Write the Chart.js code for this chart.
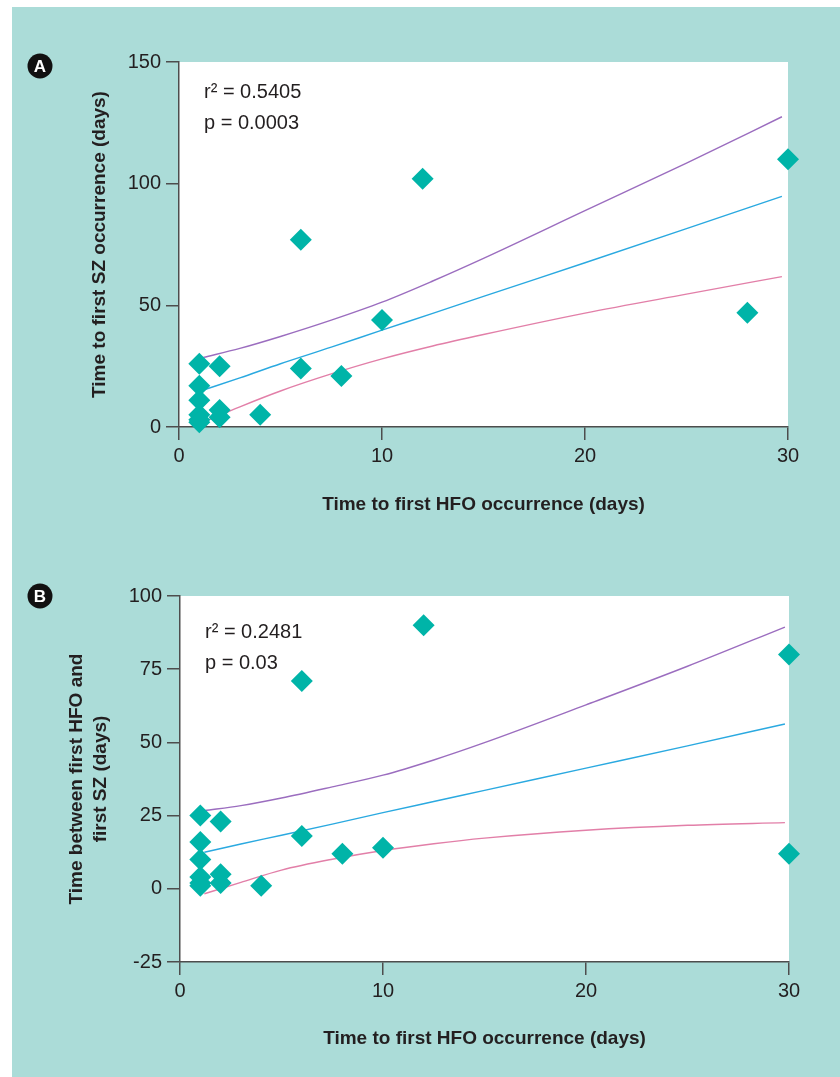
<!DOCTYPE html>
<html>
<head>
<meta charset="utf-8">
<script src="https://cdn.jsdelivr.net/npm/chart.js@4.4.1/dist/chart.umd.min.js"></script>
<style>
  body { margin: 0; background: #fff; width: 840px; height: 1077px; overflow: hidden; position: relative; }
  #bg { position: absolute; left: 12px; top: 7px; right: 0; bottom: 0; background: #abdcd8; }
  .panel { position: absolute; left: 0; width: 840px; }
</style>
</head>
<body>
<div id="bg"></div>
<div class="panel" style="top:0;height:540px"><canvas id="chartA"></canvas></div>
<div class="panel" style="top:540px;height:537px"><canvas id="chartB"></canvas></div>
<script>
// panel A: time to first SZ vs time to first HFO
var hfoA = [1, 1, 1, 1, 1, 1, 2, 2, 2, 4, 6, 6, 8, 10, 12, 28, 30];
var szA  = [26, 17, 11, 5, 3, 2, 25, 7, 4, 5, 77, 24, 21, 44, 102, 47, 110];
var curveXA = [1.2, 3, 5, 7.5, 10, 12.5, 15, 20, 25, 29.7];
var fitA    = [15.2, 20.2, 26, 32.8, 39.8, 46.7, 53.7, 67.5, 81.5, 94.8];
var upperA  = [28.6, 32.3, 37.2, 43.9, 51.3, 60, 69.3, 88.9, 108.4, 127.5];
var lowerA  = [2, 8.3, 14.8, 21.8, 28, 33.3, 38, 46.8, 54.6, 61.8];

// panel B: time between first HFO and first SZ
var hfoB = [1, 1, 1, 1, 1, 1, 2, 2, 2, 4, 6, 6, 8, 10, 12, 30, 30];
var gapB = [25, 16, 10, 4, 2, 1, 23, 5, 2, 1, 71, 18, 12, 14, 90, 80, 12];
var curveXB = [1.2, 3, 5, 7.5, 10, 12.5, 15, 20, 25, 29.8];
var fitB    = [12.5, 15.3, 18.3, 22.1, 26, 29.8, 33.6, 41.2, 48.8, 56.3];
var upperB  = [26.7, 28.4, 31, 34.8, 38.8, 44, 49.9, 62.8, 76, 89.4];
var lowerB  = [-1.7, 2.2, 6.4, 10.1, 13.1, 15.4, 17.3, 20, 21.7, 22.6];

var xTicks = [0, 10, 20, 30];

var ink = '#231f20';
var axisCol = '#4d4d4d';
var fontFam = '"Liberation Sans", Arial, Helvetica, sans-serif';

function pts(xs, ys) {
  return xs.map(function (x, i) { return { x: x, y: ys[i] }; });
}

const panelDeco = {
  id: 'panelDeco',
  beforeDraw(chart) {
    const a = chart.chartArea, ctx = chart.ctx;
    ctx.save();
    ctx.fillStyle = '#fff';
    ctx.fillRect(a.left, a.top, a.right - a.left, a.bottom - a.top);
    ctx.restore();
  },
  afterDraw(chart, args, opts) {
    const ctx = chart.ctx;
    ctx.save();
    // panel letter badge
    ctx.fillStyle = '#111';
    ctx.beginPath();
    ctx.arc(opts.badgeX, opts.badgeY, 12.5, 0, Math.PI * 2);
    ctx.fill();
    ctx.fillStyle = '#fff';
    ctx.font = 'bold 17px ' + fontFam;
    ctx.textAlign = 'center';
    ctx.textBaseline = 'middle';
    ctx.fillText(opts.letter, opts.badgeX, opts.badgeY + 1);
    // stats text
    ctx.fillStyle = ink;
    ctx.font = '20px ' + fontFam;
    ctx.textAlign = 'left';
    opts.lines.forEach(function (t, i) {
      ctx.fillText(t, opts.textX, opts.textY + i * 31.5);
    });
    ctx.restore();
  }
};

function lineSet(xs, ys, color) {
  return {
    data: pts(xs, ys),
    showLine: true,
    borderColor: color,
    borderWidth: 1.4,
    pointRadius: 0,
    cubicInterpolationMode: 'monotone',
    fill: false
  };
}

function makeChart(id, p) {
  return new Chart(document.getElementById(id), {
    type: 'scatter',
    data: {
      datasets: [
        {
          data: pts(p.xs, p.ys),
          pointStyle: 'rectRot',
          pointRadius: 11,
          backgroundColor: '#00b4a8',
          borderWidth: 0,
          clip: false
        },
        lineSet(p.cx, p.up, '#9b6dbf'),
        lineSet(p.cx, p.fit, '#2aa9e0'),
        lineSet(p.cx, p.lo, '#e27fa8')
      ]
    },
    options: {
      responsive: true,
      maintainAspectRatio: false,
      animation: false,
      layout: { padding: { top: p.top, right: p.right, left: 0, bottom: 0 } },
      plugins: {
        legend: { display: false },
        tooltip: { enabled: false },
        panelDeco: p.deco
      },
      scales: {
        x: {
          type: 'linear',
          min: 0, max: 30,
          afterBuildTicks: function (s) { s.ticks = xTicks.map(function (v) { return { value: v }; }); },
          ticks: { color: ink, font: { family: fontFam, size: 20 }, padding: 4 },
          grid: { drawOnChartArea: false, tickLength: 13, color: axisCol, lineWidth: 1.5 },
          border: { color: axisCol, width: 1.5 },
          title: {
            display: true, text: 'Time to first HFO occurrence (days)', color: ink,
            font: { family: fontFam, size: 19, weight: 'bold' },
            padding: { top: 0, bottom: p.xTitlePad }
          },
          afterFit: function (s) { s.height = p.xH; }
        },
        y: {
          type: 'linear',
          min: p.yMin, max: p.yMax,
          ticks: { stepSize: p.yStep, color: ink, font: { family: fontFam, size: 20 }, padding: 5 },
          grid: { drawOnChartArea: false, tickLength: 13, color: axisCol, lineWidth: 1.5 },
          border: { color: axisCol, width: 1.5 },
          title: {
            display: true, text: p.yTitle, color: ink,
            font: { family: fontFam, size: 19, weight: 'bold', lineHeight: 1.3 },
            padding: { top: p.yTitlePad, bottom: 0 }
          },
          afterFit: function (s) { s.width = p.yW; }
        }
      }
    },
    plugins: [panelDeco]
  });
}

makeChart('chartA', {
  xs: hfoA, ys: szA, cx: curveXA, fit: fitA, up: upperA, lo: lowerA,
  top: 62, right: 52, xH: 113, yW: 179, xTitlePad: 24, yTitlePad: 87,
  yMin: 0, yMax: 150, yStep: 50,
  yTitle: 'Time to first SZ occurrence (days)',
  deco: { letter: 'A', badgeX: 40, badgeY: 66, textX: 204, textY: 92, lines: ['r\u00B2 = 0.5405', 'p = 0.0003'] }
});

makeChart('chartB', {
  xs: hfoB, ys: gapB, cx: curveXB, fit: fitB, up: upperB, lo: lowerB,
  top: 56, right: 51, xH: 115, yW: 180, xTitlePad: 27, yTitlePad: 64,
  yMin: -25, yMax: 100, yStep: 25,
  yTitle: ['Time between first HFO and', 'first SZ (days)'],
  deco: { letter: 'B', badgeX: 40, badgeY: 56, textX: 205, textY: 92, lines: ['r\u00B2 = 0.2481', 'p = 0.03'] }
});
</script>
</body>
</html>
